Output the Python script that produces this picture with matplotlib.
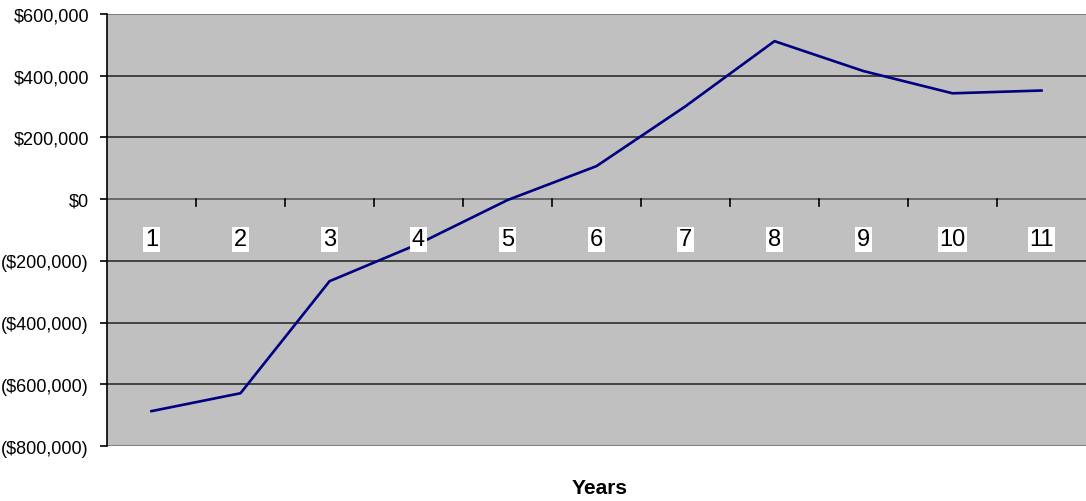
import matplotlib
matplotlib.use("Agg")
import matplotlib.pyplot as plt
import numpy as np

## Data
years = ['1', '2', '3', '4', '5', '6', '7', '8', '9', '10', '11']
cash_flow = [-687000, -629000, -266000, -145000, -3000, 107000, 301000,
             512000, 415000, 343000, 352000]
y_ticks = [-800000, -600000, -400000, -200000, 0, 200000, 400000, 600000]

plt.rcParams['font.family'] = ['Liberation Sans', 'DejaVu Sans']

fig = plt.figure(figsize=(10.86, 5.02), dpi=100)
ax = fig.add_axes([107 / 1086, 55 / 502, 1 - 107 / 1086, 432 / 502])
ax.set_facecolor('#C0C0C0')

n = len(years)
x = np.arange(n) + 0.5
ax.set_xlim(0, n)
ax.set_ylim(y_ticks[0], y_ticks[-1])

# gridlines
for v in y_ticks[1:-1]:
    ax.axhline(v, color='#505050' if v == 0 else '#202020', lw=1.1, zorder=1)

ax.plot(x, cash_flow, color='#000080', lw=1.9, zorder=3)

# axes frame
for s in ['top', 'bottom', 'right']:
    ax.spines[s].set_visible(False)
ax.spines['left'].set_color('black')
ax.spines['left'].set_linewidth(1.2)
ax.axhline(y_ticks[-1], color='#808080', lw=1.5, zorder=2)
ax.axhline(y_ticks[0], color='#808080', lw=1.5, zorder=2)

# y axis labels
def money(v):
    if v < 0:
        return '(${:,.0f})'.format(-v)
    return '${:,.0f}'.format(v)

ax.set_yticks(y_ticks)
ax.set_yticklabels([money(v) for v in y_ticks], fontsize=13)
ax.tick_params(axis='y', length=5, width=1.2, color='black', pad=8)

# category tick marks on the zero line
ax.set_xticks([])
for b in range(1, n):
    ax.plot([b, b], [0, -22000], color='black', lw=1.2, zorder=2, clip_on=False)

# category labels with white boxes
for xi, lab in zip(x, years):
    ax.text(xi, -130000, lab, ha='center', va='center', fontsize=17,
            bbox=dict(facecolor='white', edgecolor='none', pad=1.2), zorder=4)

fig.text(600 / 1086, 1 - 489 / 502, 'Years', ha='center', va='center',
         fontsize=15, fontweight='bold')

fig.savefig('out.png', dpi=100)
